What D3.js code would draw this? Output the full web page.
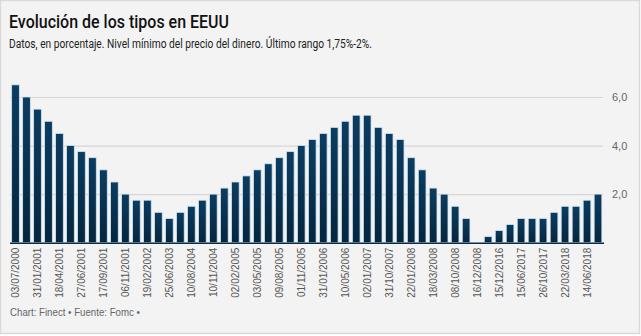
<!DOCTYPE html>
<html>
<head>
<meta charset="utf-8">
<script src="https://cdn.jsdelivr.net/npm/d3@7"></script>
<style>
  html, body { margin: 0; padding: 0; background: #ffffff; }
  svg { display: block; }
</style>
</head>
<body>
<div id="chart"></div>
<script>
// Fed funds target (lower bound), one entry per FOMC decision
const dates = [
  "03/07/2000", "03/01/2001", "31/01/2001", "20/03/2001", "18/04/2001", "15/05/2001",
  "27/06/2001", "21/08/2001", "17/09/2001", "02/10/2001", "06/11/2001", "11/12/2001",
  "19/02/2002", "06/11/2002", "25/06/2003", "30/06/2004", "10/08/2004", "21/09/2004",
  "10/11/2004", "14/12/2004", "02/02/2005", "22/03/2005", "03/05/2005", "30/06/2005",
  "09/08/2005", "20/09/2005", "01/11/2005", "13/12/2005", "31/01/2006", "28/03/2006",
  "10/05/2006", "29/06/2006", "02/01/2007", "18/09/2007", "31/10/2007", "11/12/2007",
  "22/01/2008", "30/01/2008", "18/03/2008", "30/04/2008", "08/10/2008", "29/10/2008",
  "16/12/2008", "16/12/2015", "15/12/2016", "16/03/2017", "15/06/2017", "20/09/2017",
  "26/10/2017", "13/12/2017", "22/03/2018", "02/05/2018", "14/06/2018", "26/09/2018"
];
const rates = [
  6.5, 6.0, 5.5, 5.0, 4.5, 4.0,
  3.75, 3.5, 3.0, 2.5, 2.0, 1.75,
  1.75, 1.25, 1.0, 1.25, 1.5, 1.75,
  2.0, 2.25, 2.5, 2.75, 3.0, 3.25,
  3.5, 3.75, 4.0, 4.25, 4.5, 4.75,
  5.0, 5.25, 5.25, 4.75, 4.5, 4.25,
  3.5, 3.0, 2.25, 2.0, 1.5, 1.0,
  0.0, 0.25, 0.5, 0.75, 1.0, 1.0,
  1.0, 1.25, 1.5, 1.5, 1.75, 2.0
];
// Axis labels shown under every other bar
const tickLabels = dates.filter((d, i) => i % 2 === 0);
const yTicks = [2, 4, 6];

const title = "Evolución de los tipos en EEUU";
const subtitle = "Datos, en porcentaje. Nivel mínimo del precio del dinero. Último rango 1,75%-2%.";
const footer = "Chart: Finect • Fuente: Fomc •";

const W = 641, H = 336;
const svg = d3.select("#chart").append("svg")
  .attr("width", W).attr("height", H);

// card
svg.append("rect")
  .attr("x", 0.5).attr("y", 0.5).attr("width", W - 2).attr("height", H - 3)
  .attr("fill", "#f3f3f3").attr("stroke", "#d9d9d9").attr("stroke-width", 1.5);

const x = d3.scaleBand()
  .domain(dates)
  .range([10, 603.5])
  .paddingInner(0.3)
  .paddingOuter(0.15);

const y = d3.scaleLinear()
  .domain([0, 6])
  .range([242.7, 97]);

const defs = svg.append("defs");
const grad = defs.append("linearGradient")
  .attr("id", "barGrad").attr("x1", 0).attr("y1", 0).attr("x2", 0).attr("y2", 1);
grad.append("stop").attr("offset", "0%").attr("stop-color", "#0c3c60");
grad.append("stop").attr("offset", "100%").attr("stop-color", "#05263f");

// horizontal grid + right-hand value labels
const yAxis = d3.axisRight(y)
  .tickValues(yTicks)
  .tickSize(603 - 10)
  .tickFormat(d => d3.format(".1f")(d).replace(".", ","));
const gy = svg.append("g")
  .attr("transform", "translate(10,0)")
  .call(yAxis);
gy.select(".domain").remove();
gy.selectAll(".tick line").attr("stroke", "#d6d6d6").attr("stroke-width", 1.2);
gy.selectAll(".tick text")
  .attr("x", 603 - 10 + 9)
  .attr("fill", "#666666")
  .style("font-family", "'Liberation Sans', Arial, sans-serif")
  .style("font-size", "11px");

// bars
svg.append("g").selectAll("rect")
  .data(rates)
  .join("rect")
  .attr("x", (d, i) => x(dates[i]))
  .attr("y", d => y(d))
  .attr("width", x.bandwidth())
  .attr("height", d => y(0) - y(d))
  .attr("fill", "url(#barGrad)")
  .attr("stroke", "#cfe6f2")
  .attr("stroke-width", 0.8);

// baseline + rotated date labels
const xAxis = d3.axisBottom(x)
  .tickValues(tickLabels)
  .tickSize(0)
  .tickPadding(0);
const gx = svg.append("g")
  .attr("transform", `translate(0,${y(0)})`)
  .call(xAxis);
gx.select(".domain").attr("stroke", "#0a2c47").attr("stroke-width", 1.6)
  .attr("d", `M10,0.5H604`);
gx.selectAll(".tick text")
  .attr("transform", "rotate(-90)")
  .attr("x", -5)
  .attr("y", 0)
  .attr("dy", "0.35em")
  .attr("text-anchor", "end")
  .attr("fill", "#555555")
  .style("font-family", "'Liberation Sans', Arial, sans-serif")
  .style("font-size", "10px");

// titles
svg.append("text")
  .attr("x", 9).attr("y", 28)
  .attr("fill", "#111111")
  .attr("textLength", 220)
  .attr("lengthAdjust", "spacingAndGlyphs")
  .style("font-family", "Roboto, sans-serif")
  .style("font-weight", 500)
  .style("font-size", "18px")
  .text(title);

svg.append("text")
  .attr("x", 9).attr("y", 48)
  .attr("fill", "#222222")
  .attr("textLength", 363)
  .attr("lengthAdjust", "spacingAndGlyphs")
  .style("font-family", "Roboto, sans-serif")
  .style("font-size", "12px")
  .text(subtitle);

svg.append("text")
  .attr("x", 10).attr("y", 316)
  .attr("fill", "#666666")
  .attr("textLength", 130)
  .attr("lengthAdjust", "spacingAndGlyphs")
  .style("font-family", "'Liberation Sans', Arial, sans-serif")
  .style("font-size", "11px")
  .text(footer);
</script>
</body>
</html>
